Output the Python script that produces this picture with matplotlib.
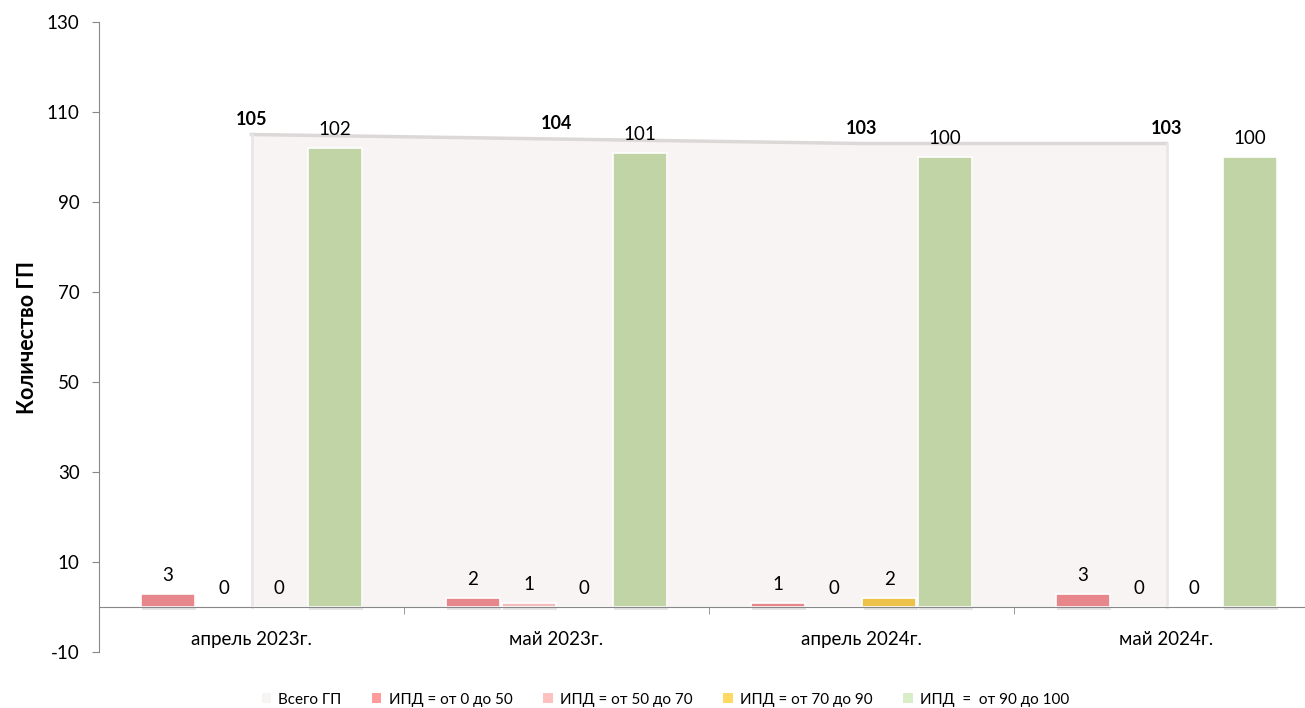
import matplotlib.pyplot as plt
import numpy as np
from matplotlib.patches import Patch

plt.rcParams['font.family'] = ['Lato', 'DejaVu Sans']
plt.rcParams['axes.unicode_minus'] = False

# data
categories = ["апрель 2023г.", "май 2023г.", "апрель 2024г.", "май 2024г."]
totalGP = [105, 104, 103, 103]
ipd0to50 = [3, 2, 1, 3]
ipd50to70 = [0, 1, 0, 0]
ipd70to90 = [0, 0, 2, 0]
ipd90to100 = [102, 101, 100, 100]

seriesNames = ["ИПД = от 0 до 50", "ИПД = от 50 до 70", "ИПД = от 70 до 90", "ИПД  =  от 90 до 100"]
barColors = ["#E8878B", "#F4BDBD", "#EDC24A", "#C0D4A5"]
legendColors = ["#FF9B9B", "#FFC0C0", "#FFD966", "#D9EDC9"]

fig = plt.figure(figsize=(13.05, 7.08), dpi=100)
ax = fig.add_axes([99/1305, 56/708, 1 - 99/1305, 630/708])

x = np.arange(len(categories))

# area series for the total
ax.fill_between(x, totalGP, 0, color="#F8F4F4", edgecolor="none", zorder=1)
ax.plot(x, totalGP, color="#DDD8D8", lw=2.5, zorder=1.5)
ax.plot([x[0], x[0]], [0, totalGP[0]], color="#EBE6E6", lw=2, zorder=1.5)
ax.plot([x[-1], x[-1]], [0, totalGP[-1]], color="#EBE6E6", lw=2, zorder=1.5)
for xi, v in zip(x, totalGP):
    ax.annotate(str(v), (xi, v), xytext=(0, 5), textcoords="offset points",
                ha="center", va="bottom", fontsize=13, fontweight="bold", zorder=5)

# grouped bars
pitch = 0.1826
width = 0.177
allSeries = [ipd0to50, ipd50to70, ipd70to90, ipd90to100]
for i, vals in enumerate(allSeries):
    pos = x + (i - 1.5) * pitch
    # soft shadow under bars
    ax.bar(pos + 0.004, vals, width, bottom=-0.6, color="#D9D4D4", alpha=0.6, zorder=2)
    bars = ax.bar(pos, vals, width, color=barColors[i], edgecolor="white", linewidth=1.2, zorder=3)
    for b, v in zip(bars, vals):
        ax.annotate(str(v), (b.get_x() + b.get_width()/2, v), xytext=(0, 7),
                    textcoords="offset points", ha="center", va="bottom", fontsize=13.5, zorder=5)

ax.set_ylim(-10, 130)
ax.set_xlim(-0.5, 3.5 - 14/305)
ax.set_yticks(np.arange(-10, 131, 20))

ax.spines["top"].set_visible(False)
ax.spines["right"].set_visible(False)
ax.spines["left"].set_color("#888888")
ax.spines["bottom"].set_color("#888888")
ax.spines["bottom"].set_position(("data", 0))
ax.spines["bottom"].set_zorder(4)

ax.set_xticks(x)
ax.set_xticklabels(categories)
ax.set_xticks([0.5, 1.5, 2.5], minor=True)
ax.tick_params(axis="x", which="major", length=0, pad=17, labelsize=13.5)
ax.tick_params(axis="x", which="minor", length=5, color="#888888", direction="out")
ax.tick_params(axis="y", length=5, color="#888888", labelsize=13.5, pad=9)

ax.set_ylabel("Количество ГП", fontsize=15.5, fontweight="bold", labelpad=6)

# legend
handles = [Patch(facecolor="#F7F4F4", edgecolor="none", label="Всего ГП")]
for name, c in zip(seriesNames, legendColors):
    handles.append(Patch(facecolor=c, edgecolor="none", label=name))
fig.legend(handles=handles, loc="center", bbox_to_anchor=(0.51, 0.012), ncol=5,
           frameon=False, fontsize=11, handlelength=0.6, handleheight=0.6,
           handletextpad=0.5, columnspacing=2.0)

fig.savefig("out.png", dpi=100)
